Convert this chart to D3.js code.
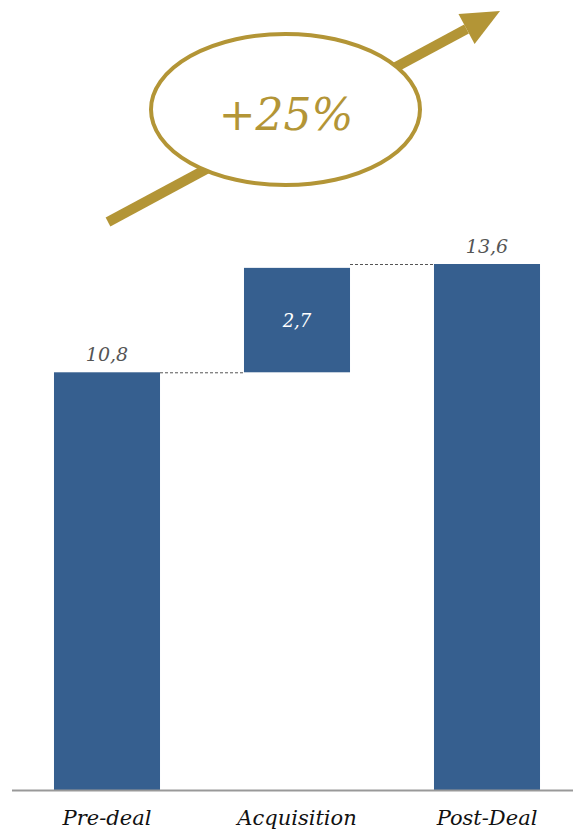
<!DOCTYPE html>
<html>
<head>
<meta charset="utf-8">
<script src="https://cdn.jsdelivr.net/npm/d3@7"></script>
<style>
  html, body { margin: 0; padding: 0; background: #fff; }
  svg { display: block; }
</style>
</head>
<body>
<svg id="chart" width="573" height="829"></svg>
<script>
// Waterfall: pre-deal value, acquisition uplift, post-deal total
const categories = ["Pre-deal", "Acquisition", "Post-Deal"];
const values = [10.8, 2.7, 13.6];
const valueLabels = ["10,8", "2,7", "13,6"];
const kinds = ["total", "delta", "total"];
const growthLabel = "+25%";

const W = 573, H = 829;
const blue = "#365F8F";
const gold = "#B39536";
const font = "'DejaVu Serif', 'Liberation Serif', serif";

const svg = d3.select("#chart");

const x = d3.scaleBand()
  .domain(categories)
  .range([12, 582])
  .paddingInner(0.442)
  .paddingOuter(0.221);

const y = d3.scaleLinear()
  .domain([0, 13.6])
  .range([790, 264]);

// stacked extents for each bar
let running = 0;
const bars = categories.map((c, i) => {
  let y0, y1;
  if (kinds[i] === "total") { y0 = 0; y1 = values[i]; running = values[i]; }
  else { y0 = running; y1 = running + values[i]; running = y1; }
  return { c, y0, y1, label: valueLabels[i], kind: kinds[i] };
});

// connectors between consecutive bar tops
const conn = svg.append("g");
for (let i = 0; i < bars.length - 1; i++) {
  const a = bars[i], b = bars[i + 1];
  const lvl = b.kind === "total" ? b.y1 : a.y1;
  conn.append("line")
    .attr("x1", x(a.c) + x.bandwidth())
    .attr("x2", x(b.c))
    .attr("y1", y(lvl) + 0.5)
    .attr("y2", y(lvl) + 0.5)
    .attr("stroke", "#555")
    .attr("stroke-width", 1)
    .attr("stroke-dasharray", "3,2");
}

svg.append("g").selectAll("rect")
  .data(bars)
  .join("rect")
  .attr("x", d => x(d.c))
  .attr("width", x.bandwidth())
  .attr("y", d => y(d.y1))
  .attr("height", d => y(d.y0) - y(d.y1))
  .attr("fill", blue);

// value labels
svg.append("g").selectAll("text")
  .data(bars)
  .join("text")
  .attr("x", d => x(d.c) + x.bandwidth() / 2)
  .attr("y", d => d.kind === "total" ? y(d.y1) - 11 : (y(d.y0) + y(d.y1)) / 2 + 7)
  .attr("text-anchor", "middle")
  .attr("font-family", font)
  .attr("font-style", "italic")
  .attr("font-size", d => d.kind === "total" ? 19 : 18)
  .attr("fill", d => d.kind === "total" ? "#555" : "#fff")
  .text(d => d.label);

// baseline axis
const axis = svg.append("g").attr("transform", `translate(0,${y(0)})`)
  .call(d3.axisBottom(x).tickSize(0).tickPadding(20));
axis.select(".domain").attr("d", `M12,0.5H573`).attr("stroke", "#999").attr("stroke-width", 2);
axis.selectAll("text")
  .attr("font-family", font)
  .attr("font-style", "italic")
  .attr("font-size", 21)
  .attr("fill", "#111");

// growth arrow with ellipse badge
const x0 = 108, y0 = 222, tipX = 500, tipY = 11;
const ang = Math.atan2(tipY - y0, tipX - x0);
const headLen = 38, headHalf = 17;
const bx = tipX - headLen * Math.cos(ang), by = tipY - headLen * Math.sin(ang);
const deco = svg.append("g");
deco.append("line")
  .attr("x1", x0).attr("y1", y0)
  .attr("x2", bx).attr("y2", by)
  .attr("stroke", gold).attr("stroke-width", 10);
const px = -Math.sin(ang), py = Math.cos(ang);
deco.append("path")
  .attr("d", `M${tipX},${tipY}L${bx + px * headHalf},${by + py * headHalf}L${bx - px * headHalf},${by - py * headHalf}Z`)
  .attr("fill", gold);

deco.append("ellipse")
  .attr("cx", 285.5).attr("cy", 109.5)
  .attr("rx", 134.5).attr("ry", 75.5)
  .attr("fill", "#fff")
  .attr("stroke", gold).attr("stroke-width", 4);

deco.append("text")
  .attr("x", 286).attr("y", 130)
  .attr("text-anchor", "middle")
  .attr("font-family", font)
  .attr("font-style", "italic")
  .attr("font-size", 44)
  .attr("fill", gold)
  .text(growthLabel);
</script>
</body>
</html>
